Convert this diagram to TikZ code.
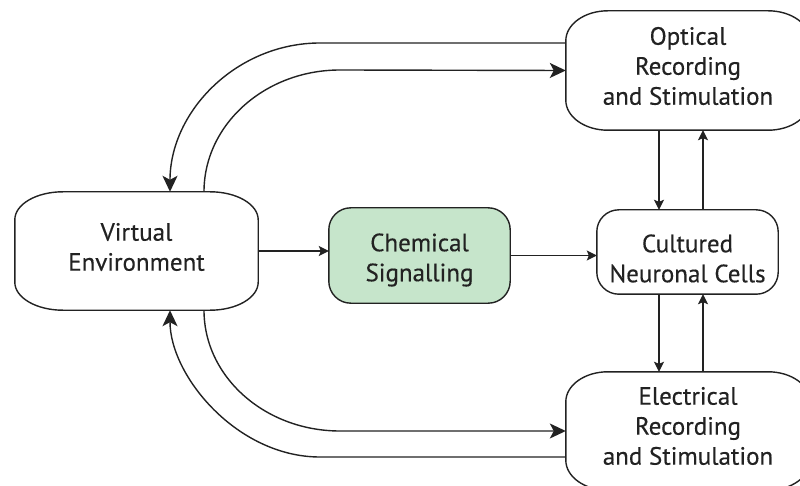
\documentclass[tikz,border=0pt]{standalone}
\usepackage{fontspec}
\setmainfont{PT Sans}
\newfontfamily\boxfont{PT Sans}[FakeBold=0.35]
\usetikzlibrary{calc,arrows.meta,backgrounds}
\definecolor{ink}{HTML}{222222}
\definecolor{chemfill}{HTML}{C6E5CB}

% Rounded box with elliptical corners drawn around a node:
% #1 node name, #2 x radius, #3 y radius, #4 fill colour
\newcommand\ovalbox[4]{%
  \path[draw=ink, line width=1.4pt, fill=#4]
    ($(#1.north west)+(#2,0)$) -- ($(#1.north east)+(-#2,0)$)
    arc[start angle=90, end angle=0, x radius=#2, y radius=#3]
    -- ($(#1.south east)+(0,#3)$)
    arc[start angle=0, end angle=-90, x radius=#2, y radius=#3]
    -- ($(#1.south west)+(#2,0)$)
    arc[start angle=270, end angle=180, x radius=#2, y radius=#3]
    -- ($(#1.north west)+(0,-#3)$)
    arc[start angle=180, end angle=90, x radius=#2, y radius=#3] -- cycle;}

\begin{document}
\begin{tikzpicture}[x=1pt, y=1pt,
  blk/.style={inner sep=0pt},
  txt/.style={inner sep=0pt, align=center, text=ink,
              font=\boxfont\fontsize{25}{30}\selectfont},
  conn/.style={draw=ink, line width=1.4pt},
  big/.style={-{Stealth[length=16pt, width=15pt, inset=4pt]}},
  small/.style={-{Stealth[length=10pt, width=10pt, inset=2pt]}},
]
\useasboundingbox (0,0) rectangle (800,485);

% blocks (the box itself is drawn below, the caption is a centred label)
\node[blk, minimum width=243pt, minimum height=118pt,
      label={[txt, yshift=4pt]center:Virtual\\Environment}] (ve) at (136.5,234) {};
\node[blk, minimum width=181pt, minimum height=95pt,
      label={[txt, yshift=-4.5pt]center:Chemical\\Signalling}] (chem) at (419.5,229.5) {};
\node[blk, minimum width=181pt, minimum height=84pt,
      label={[txt, yshift=-6.5pt]center:Cultured\\Neuronal Cells}] (cult) at (687.5,233) {};
\node[blk, minimum width=244pt, minimum height=119pt,
      label={[txt, yshift=4.5pt]center:Optical\\Recording\\and Stimulation}] (opt) at (688,414.5) {};
\node[blk, minimum width=244pt, minimum height=118pt,
      label={[txt, yshift=5pt]center:Electrical\\Recording\\and Stimulation}] (elec) at (688,54) {};

\begin{scope}[on background layer]
  \ovalbox{ve}{48pt}{28pt}{white}
  \ovalbox{chem}{22pt}{22pt}{chemfill}
  \ovalbox{cult}{22pt}{22pt}{white}
  \ovalbox{opt}{42pt}{30pt}{white}
  \ovalbox{elec}{42pt}{30pt}{white}
\end{scope}

% main chain
\draw[conn, small] (ve.east) -- (ve.east -| chem.west);
\draw[conn, small] (chem.east) -- (chem.east -| cult.west);

% optical loop
\draw[conn, big] ([yshift=27.5pt]opt.west) -- (320,442)
  .. controls (237,442) and (170,374) .. ([xshift=33.5pt]ve.north);
\draw[conn, big] ([xshift=67.5pt]ve.north) .. controls (204,360.4) and (264.9,415) .. (340,415) -- (opt.west);

% electrical loop
\draw[conn, big] ([xshift=67.5pt]ve.south) .. controls (204,108.2) and (264.9,54) .. (340,54) -- (elec.west);
\draw[conn, big] ([yshift=-26pt]elec.west) -- (320,28)
  .. controls (237,28) and (170,109.2) .. ([xshift=33.5pt]ve.south);

% cell interface arrows
\draw[conn, small] ([xshift=-29pt]opt.south) -- ([xshift=-29pt]opt.south |- cult.north);
\draw[conn, small] ([xshift=15pt]opt.south |- cult.north) -- ([xshift=15pt]opt.south);
\draw[conn, small] ([xshift=-29pt]elec.north |- cult.south) -- ([xshift=-29pt]elec.north);
\draw[conn, small] ([xshift=15pt]elec.north) -- ([xshift=15pt]elec.north |- cult.south);
\end{tikzpicture}
\end{document}
